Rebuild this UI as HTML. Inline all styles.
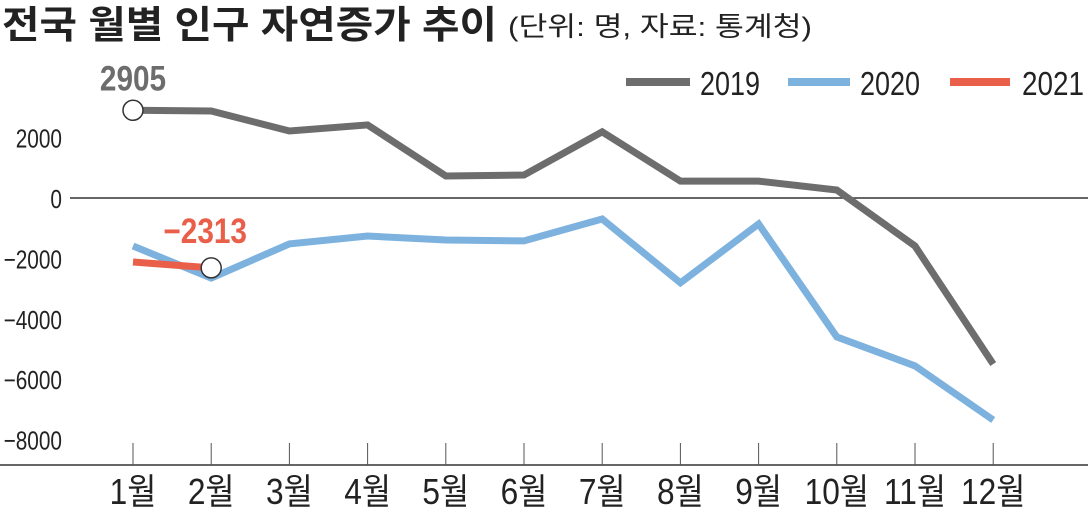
<!DOCTYPE html>
<html><head><meta charset="utf-8"><style>
html,body{margin:0;padding:0;background:#fff;}
svg text{font-family:"Liberation Sans","Noto Sans CJK KR",sans-serif;}
</style></head><body>
<svg width="1088" height="509" viewBox="0 0 1088 509">
<text x="2" y="38" font-size="38" font-weight="bold" fill="#222" textLength="495" lengthAdjust="spacingAndGlyphs">전국 월별 인구 자연증가 추이</text>
<text x="508" y="36" font-size="27" fill="#222" textLength="304" lengthAdjust="spacingAndGlyphs">(단위: 명, 자료: 통계청)</text>
<g id="axes"></g>
<g id="marks"></g>
<g>
<line x1="626" y1="82" x2="690" y2="82" stroke="#6d6d6d" stroke-width="8"/>
<text x="700" y="95" font-size="33" fill="#222" textLength="60" lengthAdjust="spacingAndGlyphs">2019</text>
<line x1="788" y1="82" x2="850" y2="82" stroke="#7db2df" stroke-width="8"/>
<text x="860" y="95" font-size="33" fill="#222" textLength="60" lengthAdjust="spacingAndGlyphs">2020</text>
<line x1="950" y1="82" x2="1010" y2="82" stroke="#e95f49" stroke-width="8"/>
<text x="1022" y="95" font-size="33" fill="#222" textLength="62" lengthAdjust="spacingAndGlyphs">2021</text>
</g>
</svg>
<script>
const months=["1월","2월","3월","4월","5월","6월","7월","8월","9월","10월","11월","12월"];
const s2019=[2905,2880,2220,2420,730,760,2190,560,560,265,-1590,-5500];
const s2020=[-1590,-2650,-1520,-1260,-1390,-1420,-695,-2810,-860,-4600,-5560,-7350];
const s2021=[-2120,-2313];
const yTicks=[2000,0,-2000,-4000,-6000,-8000];
const NS="http://www.w3.org/2000/svg";
const x=i=>133+i*78.2;
const y=v=>198-v*0.0302;
const axes=document.getElementById('axes'),marks=document.getElementById('marks');
function mk(tag,attrs,parent){const e=document.createElementNS(NS,tag);for(const k in attrs)e.setAttribute(k,attrs[k]);parent.appendChild(e);return e;}
yTicks.forEach(t=>{
  const tx=mk('text',{x:62/0.8,y:y(t)+10,'font-size':26,'text-anchor':'end',fill:'#222',transform:'scale(0.8,1)'},axes);
  
  
  tx.textContent=t<0?'−'+(-t):String(t);
});
const zl=mk('line',{x1:70,y1:y(0),x2:1088,y2:y(0),stroke:'#333','stroke-width':1.5},axes);


const xl=mk('line',{x1:0,y1:465,x2:1088,y2:465,stroke:'#333','stroke-width':1.5},axes);


months.forEach((m,i)=>{
  const tk=mk('line',{x1:x(i),y1:443,x2:x(i),y2:465,stroke:'#555','stroke-width':1},axes);
  
  
  const tx=mk('text',{x:x(i)/0.88,y:504,'font-size':36,'text-anchor':'middle',fill:'#222',transform:'scale(0.88,1)'},axes);
  
  
  tx.textContent=m;
});
function line(data,color,name){
  const p=mk('polyline',{points:data.map((v,i)=>x(i)+','+y(v)).join(' '),fill:'none',stroke:color,'stroke-width':7,'stroke-linejoin':'miter'},marks);
  
  
}
line(s2019,'#6d6d6d','line-2019');
line(s2020,'#7db2df','line-2020');
line(s2021,'#e95f49','line-2021');
const c1=mk('circle',{cx:x(0),cy:y(s2019[0]),r:10,fill:'#fff',stroke:'#333','stroke-width':1.5},marks);


const c2=mk('circle',{cx:x(1),cy:y(s2021[1]),r:10,fill:'#fff',stroke:'#333','stroke-width':1.5},marks);


const l1=mk('text',{x:x(0)/0.85,y:y(s2019[0])-20,'font-size':35,'font-weight':'bold','text-anchor':'middle',fill:'#6d6d6d',transform:'scale(0.85,1)'},marks);


l1.textContent=String(s2019[0]);
const l2=mk('text',{x:(x(1)-6)/0.85,y:y(s2021[1])-25,'font-size':35,'font-weight':'bold','text-anchor':'middle',fill:'#e95f49',transform:'scale(0.85,1)'},marks);


l2.textContent='−'+(-s2021[1]);
</script>
</body></html>
